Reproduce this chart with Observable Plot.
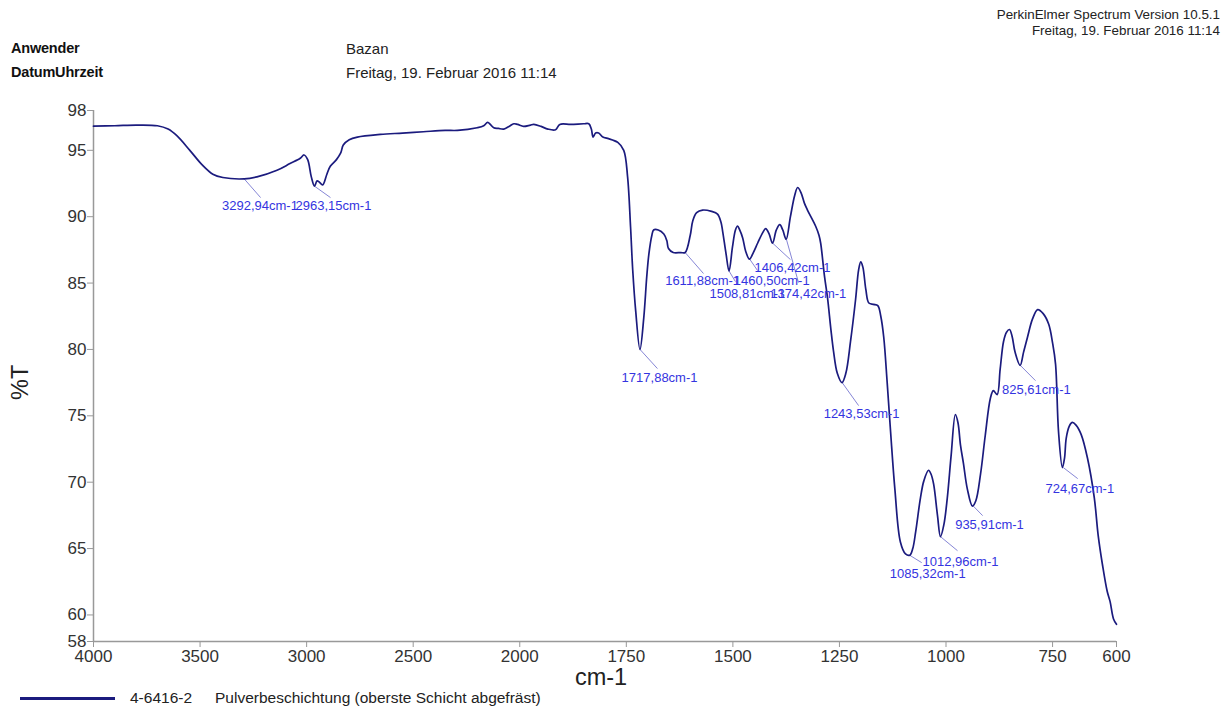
<!DOCTYPE html>
<html>
<head>
<meta charset="utf-8">
<script src="https://cdn.jsdelivr.net/npm/d3@7"></script>
<script src="https://cdn.jsdelivr.net/npm/@observablehq/plot@0.6"></script>
<style>
  html, body { margin: 0; padding: 0; background: #fff; }
  body { width: 1231px; height: 708px; overflow: hidden; position: relative; font-family: "Liberation Sans", Arial, sans-serif; color: #111; }
  #header { position: relative; height: 90px; }
  #header div { position: absolute; white-space: nowrap; line-height: 1; }
  .lbl { font-size: 14.5px; font-weight: bold; letter-spacing: -0.2px; color: #111; }
  .val { font-size: 15px; color: #222; }
  .pe { font-size: 13.4px; color: #222; right: 11px; }
  #chart { position: absolute; top: 90px; left: 0; }
  #legend { position: absolute; top: 688px; left: 0; width: 1231px; height: 20px; font-size: 15.5px; color: #222; }
  #legend .ln { position: absolute; left: 20px; top: 9px; width: 95px; height: 2.5px; background: #1b1b7e; }
  #legend .t1 { position: absolute; left: 130px; top: 1px; white-space: nowrap; }
  #legend .t2 { position: absolute; left: 215px; top: 1px; white-space: nowrap; }
</style>
</head>
<body>
<div id="header">
  <div class="pe" style="top:8px;">PerkinElmer Spectrum Version 10.5.1</div>
  <div class="pe" style="top:24px;">Freitag, 19. Februar 2016 11:14</div>
  <div class="lbl" style="left:11px; top:41px;">Anwender</div>
  <div class="lbl" style="left:11px; top:65px;">DatumUhrzeit</div>
  <div class="val" style="left:346px; top:41px;">Bazan</div>
  <div class="val" style="left:346px; top:65px;">Freitag, 19. Februar 2016 11:14</div>
</div>
<div id="chart"></div>
<div id="legend">
  <div class="ln"></div>
  <div class="t1">4-6416-2</div>
  <div class="t2">Pulverbeschichtung (oberste Schicht abgefräst)</div>
</div>
<script>
// ---- spectrum (wavenumber cm-1, %T) ----
const wavenumbers = [4000,3900,3800,3700,3650,3609,3548,3490,3440,3393,3293,3233,3139,3078,3030,3012,2995,2978,2963,2951,2940,2925,2905,2889,2860,2840,2828,2800,2762,2654,2550,2452,2350,2292,2200,2169,2151,2135,2122,2100,2075,2050,2028,2010,1991,1975,1967,1950,1934,1916,1906,1880,1850,1838,1832,1828,1822,1815,1805,1794,1770,1756,1747,1740,1735,1728,1718,1709,1702,1697,1690,1686,1675,1662,1655,1651,1640,1622,1612,1600,1594,1585,1571,1550,1536,1528,1524,1516,1509,1501,1494,1489,1484,1477,1470,1461,1452,1442,1430,1423,1415,1407,1398,1390,1383,1375,1365,1355,1348,1340,1332,1325,1306,1298,1294,1285,1278,1270,1264,1255,1244,1235,1224,1212,1205,1200,1195,1188,1181,1170,1160,1153,1146,1138,1130,1120,1107,1095,1085,1078,1071,1060,1052,1041,1035,1029,1020,1013,1005,997,988,978,972,966,959,950,938,930,919,908,896,889,880,873,865,858,851,845,838,826,818,809,797,785,772,759,750,743,736,727,722,718,711,704,695,683,668,652,643,633,622,615,607,600];
const transmittance = [96.82,96.85,96.9,96.85,96.6,96.1,95.0,93.9,93.2,92.95,92.85,93.0,93.5,94.0,94.4,94.65,94.3,93.0,92.3,92.7,92.6,92.4,93.2,93.8,94.3,94.8,95.4,95.8,96.0,96.2,96.3,96.4,96.5,96.5,96.7,96.85,97.1,96.9,96.7,96.65,96.6,96.8,97.0,96.95,96.8,96.9,96.95,96.8,96.6,96.55,96.95,96.95,97.0,97.0,96.6,96.0,96.3,96.3,96.0,95.9,95.6,95.0,93.0,89.2,86.0,82.9,80.0,82.4,85.5,87.2,88.6,89.0,89.0,88.7,88.2,87.6,87.3,87.3,87.3,88.6,89.7,90.3,90.5,90.4,90.2,89.6,88.9,87.2,85.9,87.7,89.0,89.3,89.0,88.4,87.4,86.8,87.3,88.0,88.8,89.1,88.7,88.0,89.0,89.4,89.0,88.3,90.0,91.6,92.2,91.8,91.0,90.5,89.3,88.6,88.0,85.5,83.9,81.5,79.9,78.2,77.5,78.2,80.6,83.8,86.0,86.6,86.2,84.5,83.5,83.4,83.3,82.5,80.9,77.5,73.8,69.5,65.5,64.6,64.5,65.0,66.3,68.8,70.1,70.9,70.6,69.85,67.5,65.9,66.8,68.8,72.0,75.1,74.5,72.8,71.4,69.5,68.2,68.6,70.6,73.5,76.3,76.9,76.6,78.5,80.6,81.3,81.5,81.0,79.8,78.8,79.8,80.9,82.3,83.0,82.7,81.9,80.5,78.9,73.8,71.1,71.8,73.3,74.2,74.5,74.3,73.6,71.8,68.8,66.0,63.8,61.8,61.0,59.7,59.3];

// ---- peak annotations ----
const peakWn    = [3292.94,2963.15,1717.88,1611.88,1508.81,1460.50,1406.42,1374.42,1243.53,1085.32,1012.96,935.91,825.61,724.67];
const peakT     = [92.85,92.3,80.0,87.3,85.9,86.8,88.0,88.3,77.5,64.5,65.9,68.2,78.8,71.1];
const leaderWn  = [3216,2888,1677,1569,1494,1442,1365,1346,1205,1057,973,914,790,691];
const leaderT   = [91.44,91.44,78.56,85.72,85.11,85.94,86.77,85.04,75.77,63.94,64.84,67.48,77.65,70.27];
const labelWn   = [3219,2874,1672,1571,1466,1409,1360,1323,1198,1043,966,898,788,686];
const labelT    = [90.84,90.84,77.88,85.19,84.21,85.19,86.17,84.21,75.17,63.11,64.0,66.8,76.97,69.51];

// ---- axes ----
const xBreak = 2000;   // the wavenumber axis is expanded x2 below 2000 cm-1
const xTicks = [4000,3500,3000,2500,2000,1750,1500,1250,1000,750,600];
const yDomain = [58, 98];
const yTicks = [58,60,65,70,75,80,85,90,95,98];

const xT = w => (w >= xBreak ? w : 2 * w - xBreak);
const xInv = u => (u >= xBreak ? u : (u + xBreak) / 2);

const spectrum = wavenumbers.map((w, i) => ({wn: w, t: transmittance[i]}));
const peaks = peakWn.map((w, i) => ({
  wn: w, t: peakT[i],
  lwn: leaderWn[i], lt: leaderT[i],
  twn: labelWn[i], tt: labelT[i],
  text: w.toFixed(2).replace(".", ",") + "cm-1"
}));

const W = 1231, H = 598, ML = 93, MR = 115, MT = 20, MB = 47;

const chart = Plot.plot({
  width: W, height: H,
  marginLeft: ML, marginRight: MR, marginTop: MT, marginBottom: MB,
  style: {fontFamily: "'Liberation Sans', Arial, sans-serif", background: "white", color: "#333"},
  x: {transform: xT, reverse: true, label: null},
  y: {domain: yDomain, label: null},
  marks: [
    Plot.ruleY([58], {stroke: "#999", strokeWidth: 1.5}),
    Plot.ruleX([4000], {stroke: "#999", strokeWidth: 1.5}),
    Plot.axisX({ticks: xTicks.map(xT), tickFormat: u => String(xInv(u)), tickSize: 6, tickPadding: 2, fontSize: 17, stroke: "#999", fill: "#333", label: null}),
    Plot.axisY({ticks: yTicks, tickFormat: d => String(d), tickSize: 6, tickPadding: 1, fontSize: 17, stroke: "#999", fill: "#333", label: null}),
    Plot.text(["cm-1"], {frameAnchor: "bottom", dx: -4, dy: 43, fontSize: 23.5, fill: "#222"}),
    Plot.text(["%T"], {frameAnchor: "left", dx: -73, dy: 24, rotate: -90, fontSize: 23.5, fill: "#222"}),
    Plot.link(peaks, {x1: "wn", y1: "t", x2: "lwn", y2: "lt", stroke: "#8686d6", strokeWidth: 1}),
    Plot.line(spectrum, {x: "wn", y: "t", curve: "catmull-rom", stroke: "#1b1b7e", strokeWidth: 1.7}),
    Plot.text(peaks, {x: "twn", y: "tt", text: "text", fill: "#3434e0", fontSize: 13, textAnchor: "middle"})
  ]
});
document.getElementById("chart").appendChild(chart);
</script>
</body>
</html>
